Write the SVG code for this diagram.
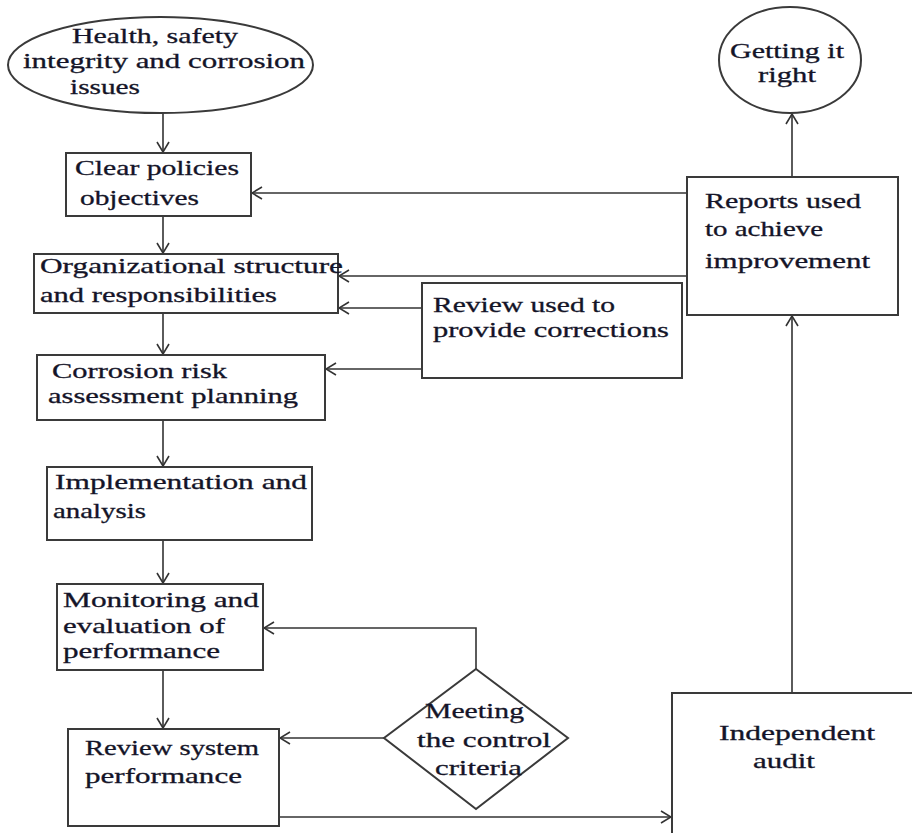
<svg xmlns="http://www.w3.org/2000/svg" width="912" height="833" viewBox="0 0 912 833">
<style>
.box{fill:#fff;stroke:#3a3a3a;stroke-width:2}
.t{font-family:"Liberation Serif","DejaVu Serif",serif;font-size:21px;fill:#141428;stroke:#141428;stroke-width:0.3}
.c{fill:none;stroke:#333;stroke-width:1.6}
</style>
<defs>
<marker id="ah" markerWidth="12" markerHeight="14" refX="11" refY="7" orient="auto" markerUnits="userSpaceOnUse">
<path d="M1,1 L11,7 L1,13" fill="none" stroke="#333" stroke-width="1.6"/>
</marker>
</defs>
<rect width="912" height="833" fill="#fff"/>
<g id="connectors">
<path class="c" d="M163,113 V152" marker-end="url(#ah)"/>
<path class="c" d="M163,216 V253" marker-end="url(#ah)"/>
<path class="c" d="M163,313 V354" marker-end="url(#ah)"/>
<path class="c" d="M163,420 V466" marker-end="url(#ah)"/>
<path class="c" d="M163,540 V583" marker-end="url(#ah)"/>
<path class="c" d="M163,670 V728" marker-end="url(#ah)"/>
<path class="c" d="M687,193 H252" marker-end="url(#ah)"/>
<path class="c" d="M687,276 H339" marker-end="url(#ah)"/>
<path class="c" d="M422,308 H339" marker-end="url(#ah)"/>
<path class="c" d="M422,369 H326" marker-end="url(#ah)"/>
<path class="c" d="M476,669 V628 H264" marker-end="url(#ah)"/>
<path class="c" d="M384,738 H280" marker-end="url(#ah)"/>
<path class="c" d="M279,817 H671" marker-end="url(#ah)"/>
<path class="c" d="M792,693 V316" marker-end="url(#ah)"/>
<path class="c" d="M792,177 V114" marker-end="url(#ah)"/>
</g>
<g id="health">
<ellipse class="box" cx="160.5" cy="65" rx="152.5" ry="48"/>
<text class="t" x="72" y="43" textLength="166" lengthAdjust="spacingAndGlyphs">Health, safety</text>
<text class="t" x="23" y="68" textLength="282" lengthAdjust="spacingAndGlyphs">integrity and corrosion</text>
<text class="t" x="70" y="94" textLength="70" lengthAdjust="spacingAndGlyphs">issues</text>
</g>
<g id="clear">
<rect class="box" x="66" y="153" width="185" height="63"/>
<text class="t" x="75" y="175" textLength="164" lengthAdjust="spacingAndGlyphs">Clear policies</text>
<text class="t" x="80" y="205" textLength="119" lengthAdjust="spacingAndGlyphs">objectives</text>
</g>
<g id="org">
<rect class="box" x="34" y="254" width="304" height="59"/>
<text class="t" x="40" y="273" textLength="303" lengthAdjust="spacingAndGlyphs">Organizational structure</text>
<text class="t" x="40" y="302" textLength="237" lengthAdjust="spacingAndGlyphs">and responsibilities</text>
</g>
<g id="corrosion">
<rect class="box" x="37" y="355" width="288" height="65"/>
<text class="t" x="52" y="378" textLength="175" lengthAdjust="spacingAndGlyphs">Corrosion risk</text>
<text class="t" x="48" y="403" textLength="250" lengthAdjust="spacingAndGlyphs">assessment planning</text>
</g>
<g id="impl">
<rect class="box" x="47" y="467" width="265" height="73"/>
<text class="t" x="55" y="489" textLength="252" lengthAdjust="spacingAndGlyphs">Implementation and</text>
<text class="t" x="53" y="518" textLength="93" lengthAdjust="spacingAndGlyphs">analysis</text>
</g>
<g id="monitoring">
<rect class="box" x="57" y="584" width="206" height="86"/>
<text class="t" x="63" y="607" textLength="196" lengthAdjust="spacingAndGlyphs">Monitoring and</text>
<text class="t" x="63" y="633" textLength="162" lengthAdjust="spacingAndGlyphs">evaluation of</text>
<text class="t" x="63" y="658" textLength="157" lengthAdjust="spacingAndGlyphs">performance</text>
</g>
<g id="reviewsys">
<rect class="box" x="68" y="729" width="211" height="97"/>
<text class="t" x="85" y="755" textLength="174" lengthAdjust="spacingAndGlyphs">Review system</text>
<text class="t" x="85" y="783" textLength="157" lengthAdjust="spacingAndGlyphs">performance</text>
</g>
<g id="meeting">
<path class="box" d="M476,669 L568,738 L476,809 L384,738 Z"/>
<text class="t" x="425" y="718" textLength="99" lengthAdjust="spacingAndGlyphs">Meeting</text>
<text class="t" x="417" y="747" textLength="134" lengthAdjust="spacingAndGlyphs">the control</text>
<text class="t" x="435" y="775" textLength="87" lengthAdjust="spacingAndGlyphs">criteria</text>
</g>
<g id="audit">
<rect class="box" x="672" y="693" width="260" height="160"/>
<text class="t" x="719" y="740" textLength="156" lengthAdjust="spacingAndGlyphs">Independent</text>
<text class="t" x="753" y="768" textLength="62" lengthAdjust="spacingAndGlyphs">audit</text>
</g>
<g id="reviewused">
<rect class="box" x="422" y="283" width="260" height="95"/>
<text class="t" x="433" y="312" textLength="182" lengthAdjust="spacingAndGlyphs">Review used to</text>
<text class="t" x="433" y="337" textLength="236" lengthAdjust="spacingAndGlyphs">provide corrections</text>
</g>
<g id="reports">
<rect class="box" x="687" y="177" width="211" height="138"/>
<text class="t" x="705" y="208" textLength="156" lengthAdjust="spacingAndGlyphs">Reports used</text>
<text class="t" x="705" y="236" textLength="118" lengthAdjust="spacingAndGlyphs">to achieve</text>
<text class="t" x="705" y="268" textLength="165" lengthAdjust="spacingAndGlyphs">improvement</text>
</g>
<g id="getting">
<ellipse class="box" cx="790" cy="60" rx="71" ry="53"/>
<text class="t" x="730" y="58" textLength="114" lengthAdjust="spacingAndGlyphs">Getting it</text>
<text class="t" x="758" y="82" textLength="58" lengthAdjust="spacingAndGlyphs">right</text>
</g>
</svg>
